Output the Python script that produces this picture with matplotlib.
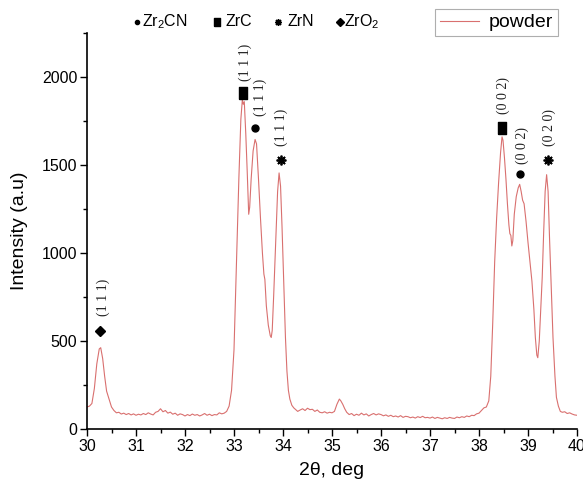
import matplotlib
matplotlib.use("Agg")
import matplotlib.pyplot as plt
from matplotlib.ticker import MultipleLocator

plt.rcParams['font.family'] = ['Liberation Sans', 'DejaVu Sans']
plt.rcParams['mathtext.fontset'] = 'custom'
plt.rcParams['mathtext.rm'] = 'Liberation Sans'
plt.rcParams['mathtext.it'] = 'Liberation Sans:italic'

# ---- data ----
two_theta = [30.00, 30.05, 30.10, 30.15, 30.20, 30.25, 30.28, 30.32, 30.36, 30.40,
             30.45, 30.50, 30.55, 30.60, 30.65, 30.70, 30.75, 30.80, 30.85, 30.90,
             30.95, 31.00, 31.05, 31.10, 31.15, 31.20, 31.25, 31.30, 31.35, 31.40,
             31.45, 31.50, 31.55, 31.60, 31.65, 31.70, 31.75, 31.80, 31.85, 31.90,
             31.95, 32.00, 32.05, 32.10, 32.15, 32.20, 32.25, 32.30, 32.35, 32.40,
             32.45, 32.50, 32.55, 32.60, 32.65, 32.70, 32.75, 32.80, 32.85, 32.90,
             32.95, 33.00, 33.05, 33.10, 33.14, 33.17, 33.19, 33.21, 33.24, 33.27,
             33.30, 33.32, 33.35, 33.39, 33.43, 33.46, 33.50, 33.54, 33.58, 33.61,
             33.63, 33.66, 33.70, 33.74, 33.76, 33.78, 33.81, 33.85, 33.89, 33.92,
             33.95, 33.98, 34.02, 34.05, 34.08, 34.11, 34.14, 34.18, 34.22, 34.26,
             34.30, 34.35, 34.40, 34.45, 34.50, 34.55, 34.60, 34.65, 34.70, 34.75,
             34.80, 34.85, 34.90, 34.95, 35.00, 35.05, 35.10, 35.15, 35.18, 35.22,
             35.26, 35.30, 35.35, 35.40, 35.45, 35.50, 35.55, 35.60, 35.65, 35.70,
             35.75, 35.80, 35.85, 35.90, 35.95, 36.00, 36.05, 36.10, 36.15, 36.20,
             36.25, 36.30, 36.35, 36.40, 36.45, 36.50, 36.55, 36.60, 36.65, 36.70,
             36.75, 36.80, 36.85, 36.90, 36.95, 37.00, 37.05, 37.10, 37.15, 37.20,
             37.25, 37.30, 37.35, 37.40, 37.45, 37.50, 37.55, 37.60, 37.65, 37.70,
             37.75, 37.80, 37.85, 37.90, 37.95, 38.00, 38.05, 38.10, 38.15, 38.20,
             38.24, 38.28, 38.32, 38.36, 38.40, 38.44, 38.47, 38.49, 38.52, 38.55,
             38.58, 38.61, 38.63, 38.65, 38.67, 38.69, 38.72, 38.76, 38.80, 38.83,
             38.86, 38.89, 38.92, 38.96, 39.00, 39.04, 39.08, 39.12, 39.15, 39.18,
             39.20, 39.23, 39.26, 39.29, 39.32, 39.35, 39.38, 39.41, 39.44, 39.48,
             39.51, 39.55, 39.58, 39.62, 39.66, 39.70, 39.75, 39.80, 39.85, 39.90,
             39.95, 40.00]
intensity = [125, 130, 145, 230, 370, 455, 462, 400, 300, 215,
             170, 125, 105, 92, 95, 85, 90, 82, 88, 80,
             86, 78, 84, 80, 88, 82, 92, 85, 80, 95,
             100, 115, 98, 105, 90, 96, 84, 90, 78, 86,
             82, 74, 82, 76, 85, 78, 82, 74, 80, 88,
             78, 84, 76, 82, 80, 92, 86, 90, 100, 130,
             220, 450, 950, 1430, 1760, 1870, 1845, 1860, 1680, 1460,
             1220, 1260, 1420, 1580, 1645, 1620, 1420, 1200, 1000, 880,
             850, 700, 590, 530, 520, 560, 760, 1060, 1350, 1455,
             1380, 1150, 780, 520, 330, 220, 170, 135, 120, 110,
             100, 108, 115, 105, 118, 110, 112, 100, 108, 95,
             92, 98, 90, 95, 92, 100, 140, 170, 160, 140,
             115, 95, 82, 88, 76, 84, 78, 90, 80, 86,
             74, 82, 88, 80, 86, 82, 75, 80, 72, 78,
             70, 74, 68, 76, 66, 72, 70, 64, 68, 62,
             70, 65, 72, 64, 66, 62, 68, 60, 66, 62,
             58, 64, 60, 66, 62, 60, 68, 64, 70, 66,
             74, 70, 78, 76, 86, 90, 105, 120, 125, 160,
             300, 600, 950, 1200, 1400, 1570, 1660, 1640, 1540, 1420,
             1280, 1160, 1110, 1100, 1040, 1070, 1220, 1320, 1370, 1390,
             1350, 1300, 1280, 1180, 1060, 950, 840, 680, 520, 420,
             405, 500, 680, 860, 1120, 1350, 1445, 1350, 1080, 750,
             520, 300, 180, 130, 100, 95, 98, 88, 92, 85,
             80, 78]

# phase markers: (2theta, height), hkl labels (2theta, height, text)
zrc_pos = [33.19, 38.47]
zrc_h = [1910, 1708]
zr2cn_pos = [33.43, 38.83]
zr2cn_h = [1711, 1448]
zrn_pos = [33.96, 39.40]
zrn_h = [1530, 1530]
zro2_pos = [30.27]
zro2_h = [557]
hkl_x = [30.33, 33.22, 33.53, 33.97, 38.50, 38.88, 39.43]
hkl_y = [750, 2085, 1883, 1715, 1897, 1610, 1715]
hkl_text = ["(1 1 1)", "(1 1 1)", "(1 1 1)", "(1 1 1)", "(0 0 2)", "(0 0 2)", "(0 2 0)"]

x_ticks = [30, 31, 32, 33, 34, 35, 36, 37, 38, 39, 40]
y_ticks = [0, 500, 1000, 1500, 2000]

line_color = '#d9706f'

fig = plt.figure(figsize=(5.83, 4.9), dpi=100)
ax = fig.add_axes([87/583, 1 - 429/490, (577 - 87)/583, (429 - 33)/490])

ax.plot(two_theta, intensity, color=line_color, lw=0.8, label='powder')

rect = [(-0.7, -1), (0.7, -1), (0.7, 1), (-0.7, 1), (-0.7, -1)]
ax.plot(zrc_pos, zrc_h, ls='none', marker=rect, ms=8, color='black')
ax.plot(zr2cn_pos, zr2cn_h, ls='none', marker='o', ms=5, color='black')
ax.plot(zrn_pos, zrn_h, ls='none', marker=(8, 2, 0), ms=7, mew=1.3, color='black')
ax.plot(zro2_pos, zro2_h, ls='none', marker='D', ms=5.5, color='black')

for xx, yy, tt in zip(hkl_x, hkl_y, hkl_text):
    ax.text(xx, yy, tt, rotation=90, ha='center', va='center',
            fontsize=10, family=['Liberation Serif'], color='#222222')

ax.set_xlim(30, 40)
ax.set_ylim(0, 2250)
ax.set_xticks(x_ticks)
ax.set_yticks(y_ticks)
ax.xaxis.set_minor_locator(MultipleLocator(0.5))
ax.yaxis.set_minor_locator(MultipleLocator(250))
ax.tick_params(which='major', direction='out', length=5, width=1, labelsize=11.5, pad=2)
ax.tick_params(which='minor', direction='out', length=3, width=1)
for s in ['top', 'right']:
    ax.spines[s].set_visible(False)
for s in ['left', 'bottom']:
    ax.spines[s].set_linewidth(1.2)

ax.set_xlabel('2θ, deg', fontsize=14, labelpad=6)
ax.set_ylabel('Intensity (a.u)', fontsize=14, labelpad=10)

leg = ax.legend(loc='upper right', bbox_to_anchor=(558/583, 1 - 9/490),
                bbox_transform=fig.transFigure, fontsize=14, frameon=True,
                fancybox=False, edgecolor='#9a9a9a', handlelength=2.0,
                borderaxespad=0, borderpad=0.25, handletextpad=0.5)
leg.get_frame().set_linewidth(0.8)

# top phase key
ky = 1 - 22/490
fig.lines.append(plt.Line2D([136.5/583], [ky], ls='none', marker='o', ms=3, color='black', transform=fig.transFigure))
fig.lines.append(plt.Line2D([217/583], [ky], ls='none', marker=rect, ms=5.5, color='black', transform=fig.transFigure))
fig.lines.append(plt.Line2D([278/583], [ky], ls='none', marker=(8, 2, 0), ms=5, mew=1, color='black', transform=fig.transFigure))
fig.lines.append(plt.Line2D([340/583], [ky], ls='none', marker='D', ms=3.8, color='black', transform=fig.transFigure))
fig.text(142/583, ky, 'Zr$_2$CN', fontsize=11.5, va='center', ha='left')
fig.text(226/583, ky, 'ZrC', fontsize=11.5, va='center', ha='left')
fig.text(288/583, ky, 'ZrN', fontsize=11.5, va='center', ha='left')
fig.text(344/583, ky, 'ZrO$_2$', fontsize=11.5, va='center', ha='left')

fig.savefig('out.png', dpi=100)
